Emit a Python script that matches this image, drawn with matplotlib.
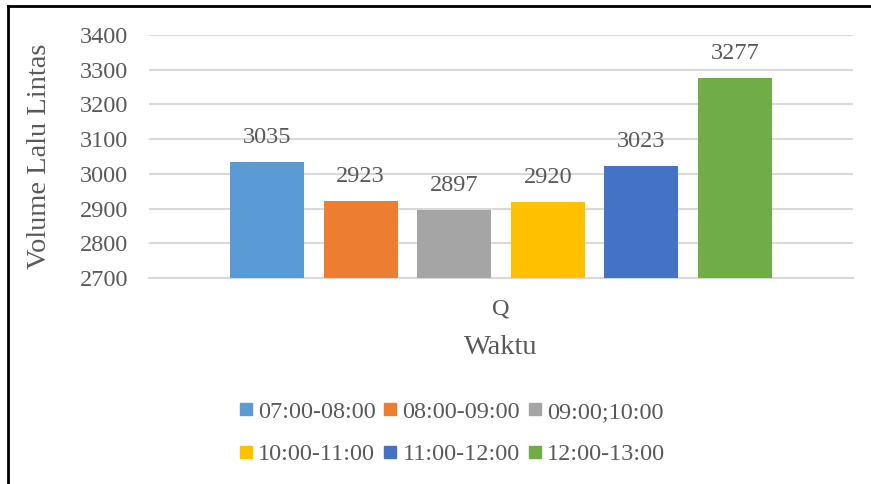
import matplotlib.pyplot as plt
from matplotlib.lines import Line2D

plt.rcParams['font.family'] = ['Liberation Serif', 'DejaVu Serif']

periods = ["07:00-08:00", "08:00-09:00", "09:00;10:00",
           "10:00-11:00", "11:00-12:00", "12:00-13:00"]
volumes = [3035, 2923, 2897, 2920, 3023, 3277]
colors = ["#5B9BD5", "#ED7D31", "#A5A5A5", "#FFC000", "#4472C4", "#70AD47"]

text_color = "#595959"
grid_color = "#D9D9D9"

fig = plt.figure(figsize=(8.71, 4.84), dpi=100)
ax = fig.add_axes([149 / 871, 1 - 278 / 484, (853 - 149) / 871, (278 - 35) / 484])

for i, (label, v, c) in enumerate(zip(periods, volumes, colors)):
    ax.bar(i, v - 2700, bottom=2700, width=0.79, color=c, label=label, zorder=3)
    ax.annotate(str(v), (i, v), xytext=(0, 10), textcoords="offset points",
                ha="center", va="bottom", fontsize=17.5, color=text_color)

ax.set_xlim(-1.26, 6.26)
ax.set_ylim(2700, 3400)
ax.set_yticks(range(2700, 3401, 100))
ax.yaxis.grid(True, color=grid_color, linewidth=1.5, zorder=0)
for s in ["top", "right", "left"]:
    ax.spines[s].set_visible(False)
ax.spines["bottom"].set_color(grid_color)
ax.spines["bottom"].set_linewidth(1.5)
ax.tick_params(axis="y", length=0, labelsize=17.5, labelcolor=text_color, pad=15)
ax.set_xticks([2.5])
ax.set_xticklabels(["Q"])
ax.tick_params(axis="x", length=0, labelsize=17.5, labelcolor=text_color, pad=15)
ax.set_xlabel("Waktu", fontsize=20.5, color=text_color, labelpad=11)
ax.set_ylabel("Volume Lalu Lintas", fontsize=20.5, color=text_color, labelpad=20)

# row-major order for a 3-column legend
order = [0, 3, 1, 4, 2, 5]
handles = [Line2D([], [], marker="s", linestyle="none", markersize=8,
                  color=colors[k]) for k in order]
fig.legend(handles, [periods[k] for k in order], ncol=3,
           loc="center", bbox_to_anchor=(0.516, 1 - 433 / 484),
           frameon=False, fontsize=17.5, labelcolor=text_color,
           handletextpad=0.0, columnspacing=0.1, labelspacing=0.85,
           handlelength=1.0)

# frame lines on top and left edge
fig.add_artist(Line2D([8 / 871, 1], [1 - 6 / 484, 1 - 6 / 484],
                      transform=fig.transFigure, color="black", linewidth=2))
fig.add_artist(Line2D([8 / 871, 8 / 871], [0, 1 - 6 / 484],
                      transform=fig.transFigure, color="black", linewidth=2))

fig.savefig("out.png", dpi=100)
